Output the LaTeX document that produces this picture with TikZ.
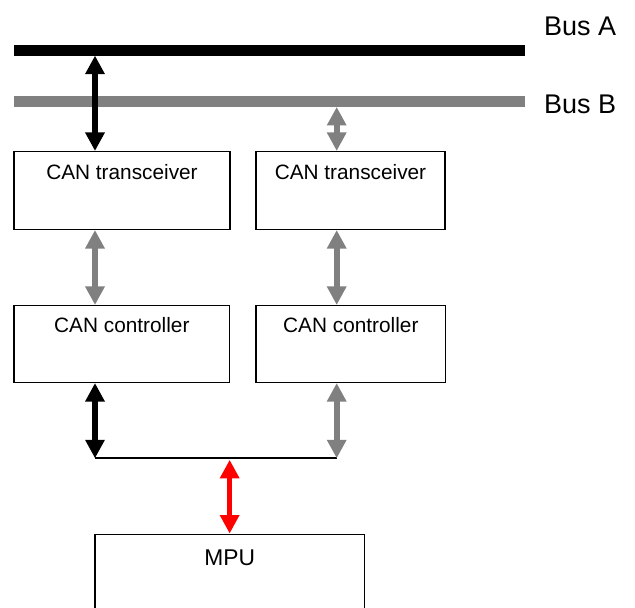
\documentclass[tikz,border=0pt]{standalone}
\usepackage{fontspec}
\setmainfont{Liberation Sans}
\usetikzlibrary{arrows.meta,calc}
\definecolor{busgray}{RGB}{128,128,128}
\definecolor{pured}{RGB}{255,0,0}
\tikzset{
  bus/.style={inner sep=0pt, outer sep=0pt, minimum width=511pt, minimum height=10.5pt},
  box/.style={draw=black, line width=1.5pt, fill=white, inner sep=0pt},
  lbl/.style={inner sep=0pt, anchor=base, font=\fontsize{20.8}{24}\selectfont},
  buslbl/.style={inner sep=0pt, anchor=base west, font=\fontsize{27}{32}\selectfont},
  biarrow/.style={line width=5.6pt, {Triangle[length=18.5pt,width=18.5pt]}-{Triangle[length=18.5pt,width=18.5pt]}},
  thinline/.style={line width=1.8pt}
}
\begin{document}
\begin{tikzpicture}[x=1pt,y=-1pt]
\useasboundingbox (0,0) rectangle (635,608);
% buses
\node[bus, fill=black] (busA) at (269.5,50.35) {};
\node[bus, fill=busgray] (busB) at (269.5,101.7) {};
\node[buslbl] (labA) at (544,35) {Bus A};
\node[buslbl] (labB) at (544,113.3) {Bus B};
% x positions of the vertical links
\coordinate (xl) at (95,0);
\coordinate (xr) at (336.7,0);
% boxes
\node[box, minimum width=216pt, minimum height=77.6pt] (trans1) at (122,190.5) {};
\node[box, minimum width=189pt, minimum height=77.6pt] (trans2) at (350.5,190.5) {};
\node[box, minimum width=215.7pt, minimum height=76.6pt] (ctrl1) at (121.85,344) {};
\node[box, minimum width=189.7pt, minimum height=76.6pt] (ctrl2) at (350.85,344) {};
\node[box, minimum width=269.3pt, minimum height=115.7pt] (mpu) at (229.65,592.15) {};
% labels
\node[lbl] (t1) at ($(trans1.north)+(0,29)$) {CAN transceiver};
\node[lbl] (t2) at ($(trans2.north)+(0,29)$) {CAN transceiver};
\node[lbl] (c1) at ($(ctrl1.north)+(0,27.6)$) {CAN controller};
\node[lbl] (c2) at ($(ctrl2.north)+(0,27.6)$) {CAN controller};
\node[lbl, font=\fontsize{22.8}{27}\selectfont] (m) at ($(mpu.north)+(0,31.7)$) {MPU};
% junction line
\coordinate (jl) at (95,458.3);
\coordinate (jr) at (336.7,458.3);
\draw[thinline] (jl) -- (jr);
% arrows
\draw[biarrow, black] (busA.south -| xl) -- (trans1.north -| xl);
\draw[biarrow, busgray] (busB.south -| xr) -- (trans2.north -| xr);
\draw[biarrow, busgray] (trans1.south -| xl) -- (ctrl1.north -| xl);
\draw[biarrow, busgray] (trans2.south -| xr) -- (ctrl2.north -| xr);
\draw[biarrow, black] (ctrl1.south -| xl) -- (jl);
\draw[biarrow, busgray] (ctrl2.south -| xr) -- (jr);
\draw[biarrow, pured] ($(mpu.north |- jl)+(0,1.5)$) -- (mpu.north);
\end{tikzpicture}
\end{document}
